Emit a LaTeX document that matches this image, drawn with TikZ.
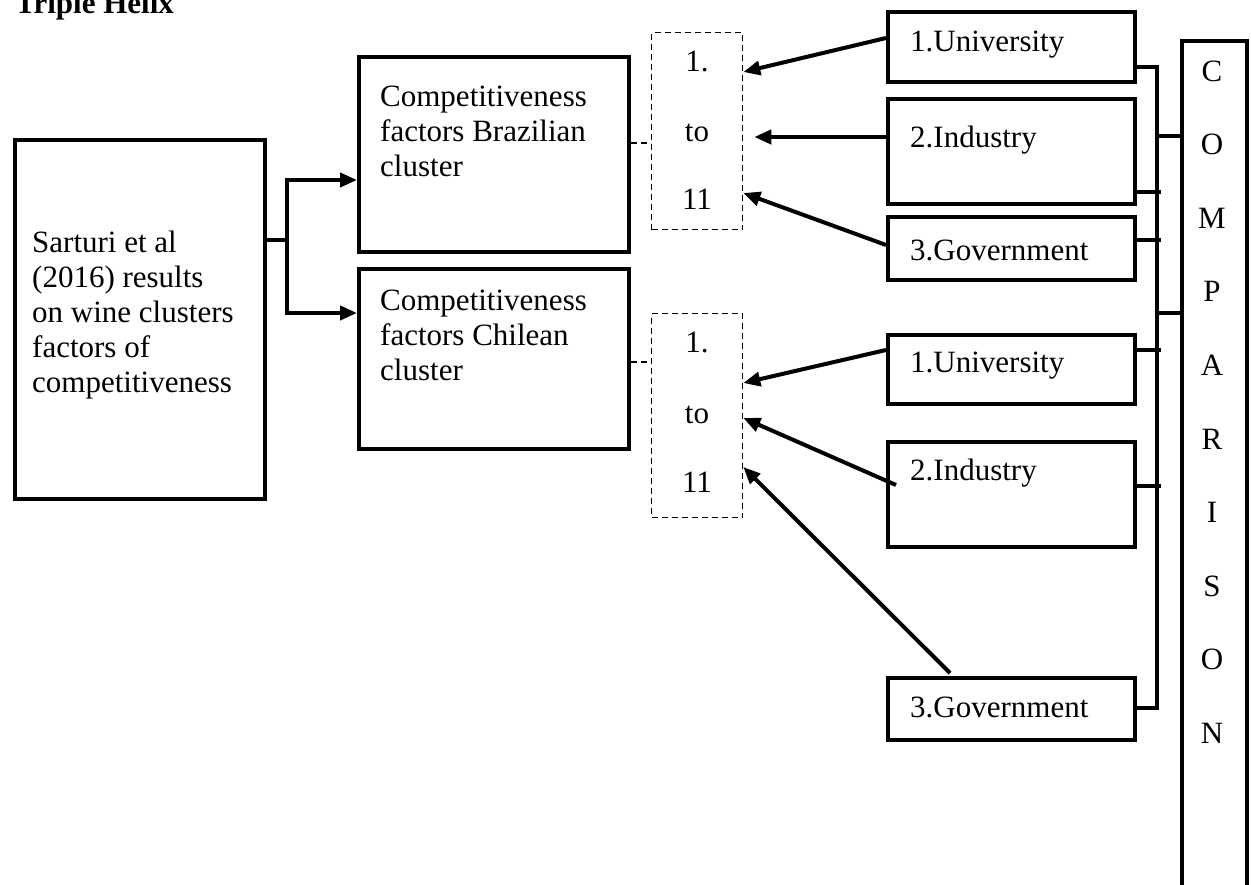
\documentclass[tikz,border=0pt]{standalone}
\usepackage{fontspec}
\setmainfont{Liberation Serif}
\usetikzlibrary{arrows.meta,calc}
\begin{document}
\begin{tikzpicture}[x=1pt,y=-1pt,
  box/.style={draw, line width=4pt, inner sep=0pt, anchor=north west, rectangle},
  dbox/.style={draw, line width=1.3pt, dash pattern=on 6pt off 4pt, inner sep=0pt, anchor=north west, rectangle},
  txt/.style={anchor=base west, inner sep=0pt, font=\fontsize{31}{35}\selectfont, align=left},
  ctxt/.style={anchor=base, inner sep=0pt, font=\fontsize{31}{35}\selectfont},
  conn/.style={line width=4pt},
  dconn/.style={line width=1.3pt, dash pattern=on 6pt off 4pt},
  arr/.style={line width=4pt, -{Triangle[length=17pt,width=14pt]}}
]
\useasboundingbox (0,0) rectangle (1251,885);

% title
\node[anchor=base west, inner sep=0pt, font=\fontsize{31}{35}\selectfont\bfseries] (title) at (15,14) {Triple Helix};

% boxes
\node[box, minimum width=250pt, minimum height=359pt] (sart) at (13,138) {};
\node[box, minimum width=270pt, minimum height=195pt] (braz) at (357,55) {};
\node[box, minimum width=270pt, minimum height=180pt] (chil) at (357,267) {};
\node[dbox, minimum width=91pt, minimum height=197pt] (d1) at (651,32) {};
\node[dbox, minimum width=91pt, minimum height=204pt] (d2) at (651,313) {};
\node[box, minimum width=247pt, minimum height=70pt] (u1) at (886,10) {};
\node[box, minimum width=247pt, minimum height=105pt] (i1) at (886,97) {};
\node[box, minimum width=247pt, minimum height=63pt] (g1) at (886,215) {};
\node[box, minimum width=247pt, minimum height=69pt] (u2) at (886,333) {};
\node[box, minimum width=247pt, minimum height=105pt] (i2) at (886,440) {};
\node[box, minimum width=247pt, minimum height=62pt] (g2) at (886,676) {};
\node[box, minimum width=65pt, minimum height=861pt] (comp) at (1180,39) {};

% texts (anchor = baseline of the last line)
\node[txt] (sartt) at (32,392) {Sarturi et al\\(2016) results\\on wine clusters\\factors of\\competitiveness};
\node[txt] (brazt) at (380,177) {Competitiveness\\factors Brazilian\\cluster};
\node[txt] (chilt) at (380,381) {Competitiveness\\factors Chilean\\cluster};
\node[ctxt] (d1a) at (697,72) {1.};
\node[ctxt] (d1b) at (697,142) {to};
\node[ctxt] (d1c) at (697,210) {11};
\node[ctxt] (d2a) at (697,353) {1.};
\node[ctxt] (d2b) at (697,423) {to};
\node[ctxt] (d2c) at (697,492) {11};
\node[txt] (u1t) at (910,52) {1.University};
\node[txt] (i1t) at (910,148) {2.Industry};
\node[txt] (g1t) at (910,261) {3.Government};
\node[txt] (u2t) at (910,373) {1.University};
\node[txt] (i2t) at (910,480) {2.Industry};
\node[txt] (g2t) at (910,717) {3.Government};
\foreach \l/\yy [count=\k] in {C/82,O/155,M/229,P/302,A/376,R/449,I/522,S/596,O/669,N/743}
  \node[ctxt] (cl\k) at (1212,\yy) {\l};

% left connectors
\coordinate (j) at (287,240);
\draw[conn] (sart.east |- j) -- (j);
\draw[arr] (j) |- ($(braz.north west)+(0,125)$);
\draw[arr] (j) |- ($(chil.north west)+(0,46)$);

% dashed connectors
\draw[dconn] ($(braz.north east)+(0,88)$) -- ($(d1.north west)+(0,111)$);
\draw[dconn] ($(chil.north east)+(0,95)$) -- ($(d2.north west)+(0,49)$);

% arrows to dashed boxes
\draw[arr] ($(u1.north west)+(0,28)$) -- ($(d1.north east)+(0,40)$);
\draw[arr] ($(i1.north west)+(0,40)$) -- ($(d1.north east)+(11,105)$);
\draw[arr] ($(g1.north west)+(0,30)$) -- ($(d1.north east)+(0,161)$);
\draw[arr] ($(u2.north west)+(0,17)$) -- ($(d2.north east)+(0,70)$);
\draw[arr] ($(i2.north west)+(10,45)$) -- ($(d2.north east)+(0,105)$);
\draw[arr] ($(g2.north west)+(64,-3)$) -- ($(d2.north east)+(0,154)$);

% bus
\coordinate (bt) at (1157,67);
\coordinate (bb) at (1157,708);
\draw[conn] ($(u1.north east)+(0,57)$) -- (bt) -- (bb) -- ($(g2.north east)+(0,32)$);
\draw[conn] ($(i1.north east)+(0,95)$) -- ++(24,0);
\draw[conn] ($(g1.north east)+(0,25)$) -- ++(24,0);
\draw[conn] ($(u2.north east)+(0,17)$) -- ++(24,0);
\draw[conn] ($(i2.north east)+(0,46)$) -- ++(24,0);
\draw[conn] ($(comp.north west)+(0,97)$) -- ++(-23,0);
\draw[conn] ($(comp.north west)+(0,274)$) -- ++(-23,0);
\end{tikzpicture}
\end{document}
